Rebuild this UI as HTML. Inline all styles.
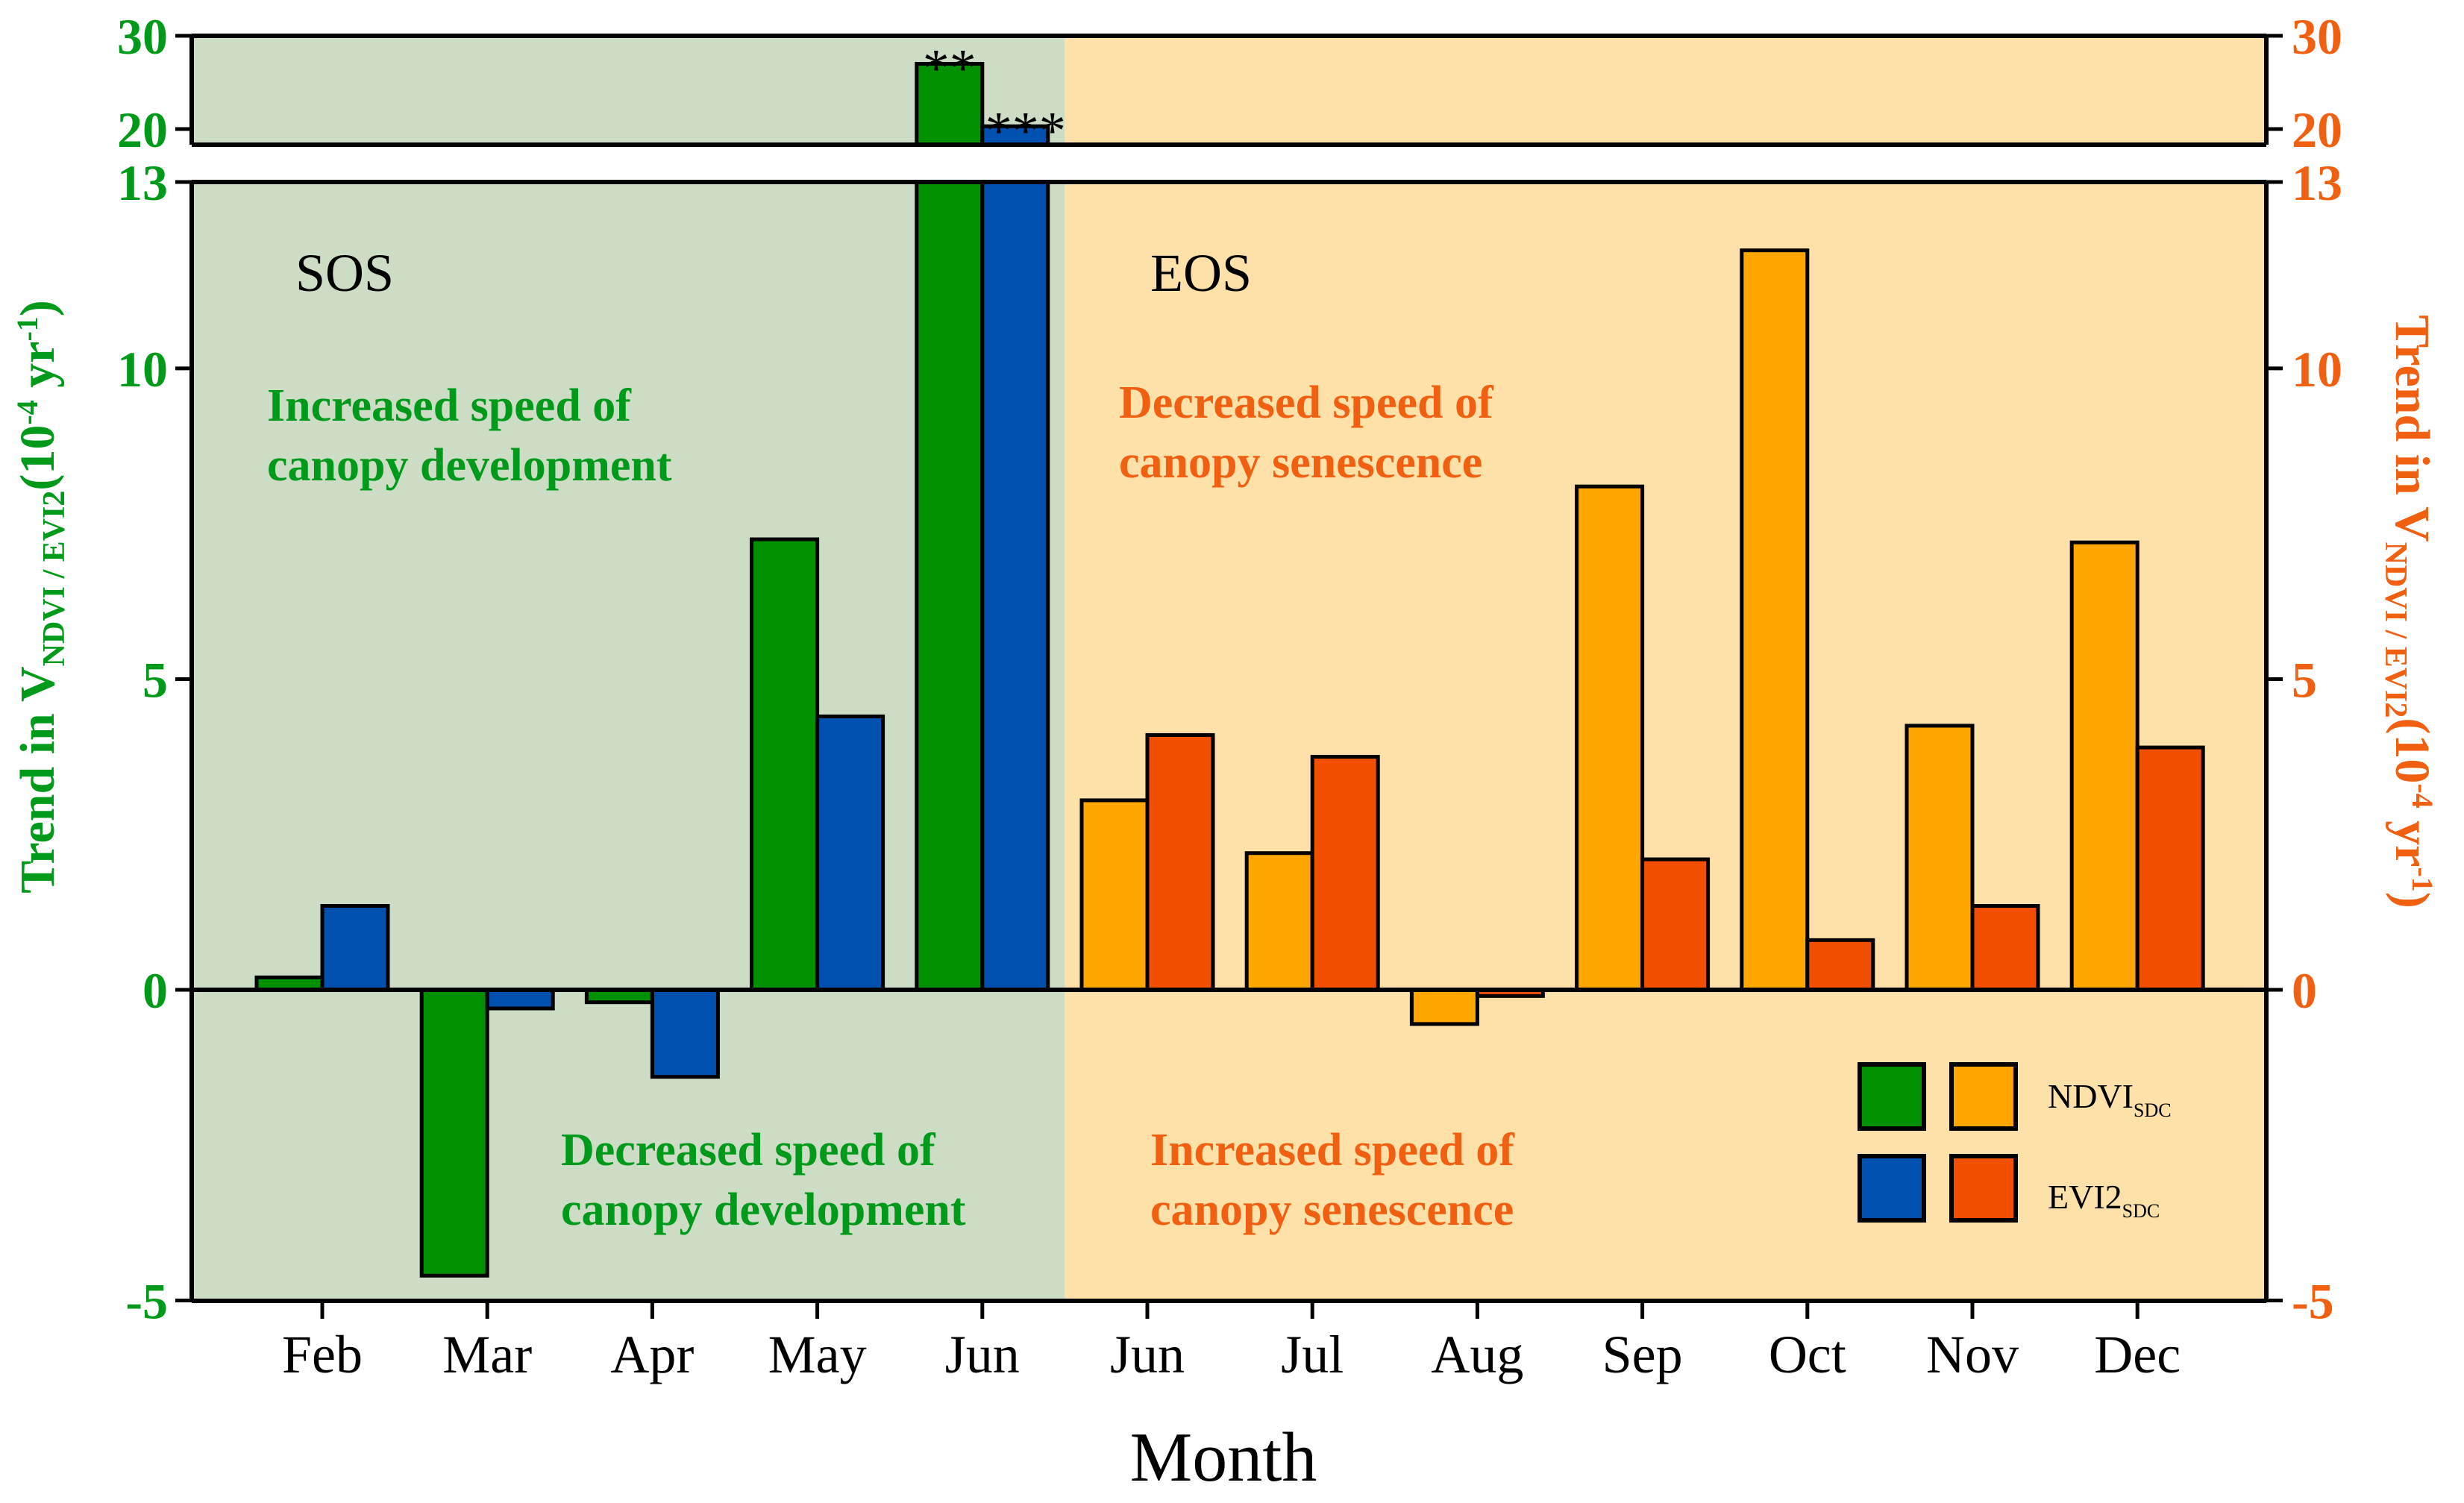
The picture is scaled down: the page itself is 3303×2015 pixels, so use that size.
<!DOCTYPE html>
<html><head><meta charset="utf-8"><style>
html,body{margin:0;padding:0;background:#fff;}
svg{display:block;font-family:"Liberation Serif",serif;}
</style></head><body>
<svg id="chart" width="3303" height="2015" viewBox="0 0 3303 2015" xmlns="http://www.w3.org/2000/svg">
<g id="bg"></g><g id="bars"></g><g id="axes"></g><g id="labels"></g>
</svg>
<script>
const months = ["Feb","Mar","Apr","May","Jun","Jun","Jul","Aug","Sep","Oct","Nov","Dec"];
const ndvi = [0.2,-4.6,-0.2,7.25,27.0,3.05,2.2,-0.55,8.1,11.9,4.25,7.2];
const evi2 = [1.35,-0.3,-1.4,4.4,20.3,4.1,3.75,-0.1,2.1,0.8,1.35,3.9];
const lowTicks = [-5,0,5,10,13];
const topTicks = [20,30];
const sosCount = 5;

const NS="http://www.w3.org/2000/svg";
const L=257,R=3038,LT=244,LB=1744,TT=48,TB=194;
function yLow(v){return 1327-(v)*((1327-LT)/13);}
function yTop(v){return 173-(v-20)*12.5;}
function xMonth(i){return 432+i*221.2;}
function mk(parent,tag,attrs,text){const e=document.createElementNS(NS,tag);for(const k in attrs)e.setAttribute(k,attrs[k]);if(text!==undefined)e.textContent=text;document.getElementById(parent).appendChild(e);return e;}
const split=(xMonth(sosCount-1)+xMonth(sosCount))/2;
let e;
e=mk('bg','rect',{x:L,y:TT,width:split-L,height:TB-TT,fill:'#cddcc4'});


e=mk('bg','rect',{x:split,y:TT,width:R-split,height:TB-TT,fill:'#fde1a9'});


e=mk('bg','rect',{x:L,y:LT,width:split-L,height:LB-LT,fill:'#cddcc4'});


e=mk('bg','rect',{x:split,y:LT,width:R-split,height:LB-LT,fill:'#fde1a9'});



const BW=88;
function bar(i,v,left,color,name){
  const x=left?xMonth(i)-BW:xMonth(i);
  if(v<=13){
    const y0=yLow(0),y1=yLow(v);
    e=mk('bars','rect',{x:x,y:Math.min(y0,y1),width:BW,height:Math.abs(y1-y0),fill:color,stroke:'#000','stroke-width':5});
    
    
  } else {
    e=mk('bars','rect',{x:x,y:LT,width:BW,height:yLow(0)-LT,fill:color,stroke:'#000','stroke-width':5});
    
    
    e=mk('bars','rect',{x:x,y:yTop(v),width:BW,height:TB-yTop(v),fill:color,stroke:'#000','stroke-width':5});
    
    
  }
}
for(let i=0;i<months.length;i++){
  const sos=i<sosCount;
  bar(i,ndvi[i],true,sos?'#009100':'#ffa600','ndvi-bar-'+i);
  bar(i,evi2[i],false,sos?'#0050b0':'#f24f00','evi2-bar-'+i);
}
e=mk('labels','text',{x:xMonth(4)-BW/2,y:yTop(ndvi[4])+30,'text-anchor':'middle','font-size':72},'**');


e=mk('labels','text',{x:xMonth(4)+BW/2+14,y:yTop(evi2[4])+30,'text-anchor':'middle','font-size':72},'***');



const lines=[[L,TT,R,TT],[L,TB,R,TB],[L,LT,R,LT],[L,LB,R,LB],[L,TT,L,TB],[R,TT,R,TB],[L,LT,L,LB],[R,LT,R,LB],[L,yLow(0),R,yLow(0)]];
lines.forEach((l,k)=>{e=mk('axes','line',{x1:l[0],y1:l[1],x2:l[2],y2:l[3],stroke:'#000','stroke-width':6});

});
lowTicks.forEach(t=>{const y=yLow(t);
 mk('axes','line',{x1:L-22,y1:y,x2:L,y2:y,stroke:'#000','stroke-width':5});
 mk('axes','line',{x1:R,y1:y,x2:R+22,y2:y,stroke:'#000','stroke-width':5});
 e=mk('labels','text',{x:L-32,y:y+24,'text-anchor':'end','font-size':68,'font-weight':'bold',fill:'#009a1a'},t);
 
 
 e=mk('labels','text',{x:R+34,y:y+24,'text-anchor':'start','font-size':68,'font-weight':'bold',fill:'#f06010'},t);
 
 
});
topTicks.forEach(t=>{const y=yTop(t);
 mk('axes','line',{x1:L-22,y1:y,x2:L,y2:y,stroke:'#000','stroke-width':5});
 mk('axes','line',{x1:R,y1:y,x2:R+22,y2:y,stroke:'#000','stroke-width':5});
 e=mk('labels','text',{x:L-32,y:y+24,'text-anchor':'end','font-size':68,'font-weight':'bold',fill:'#009a1a'},t);
 
 
 e=mk('labels','text',{x:R+34,y:y+24,'text-anchor':'start','font-size':68,'font-weight':'bold',fill:'#f06010'},t);
 
 
});
months.forEach((m,i)=>{const x=xMonth(i);
 mk('axes','line',{x1:x,y1:LB,x2:x,y2:LB+24,stroke:'#000','stroke-width':5});
 e=mk('labels','text',{x:x,y:1840,'text-anchor':'middle','font-size':72},m);
 
 
});
</script>
<svg style="position:absolute;left:0;top:0" width="3303" height="2015" xmlns="http://www.w3.org/2000/svg" font-family="Liberation Serif, serif">
<text x="1640" y="1985" text-anchor="middle" font-size="94">Month</text>
<text x="396" y="390" font-size="72">SOS</text>
<text x="1542" y="390" font-size="72">EOS</text>
<g font-weight="bold" font-size="62" fill="#009a1a">
<text x="358" y="564">Increased speed of<tspan x="358" y="644">canopy development</tspan></text>
<text x="752" y="1562">Decreased speed of<tspan x="752" y="1642">canopy development</tspan></text>
</g>
<g font-weight="bold" font-size="62" fill="#f06010">
<text x="1500" y="560">Decreased speed of<tspan x="1500" y="640">canopy senescence</tspan></text>
<text x="1542" y="1562">Increased speed of<tspan x="1542" y="1642">canopy senescence</tspan></text>
</g>
<text transform="translate(72,800) rotate(-90)" text-anchor="middle" font-size="66" font-weight="bold" fill="#009a1a">Trend in V<tspan font-size="42" dy="14">NDVI / EVI2</tspan><tspan dy="-14">(10</tspan><tspan font-size="40" dy="-22">-4</tspan><tspan dy="22"> yr</tspan><tspan font-size="40" dy="-22">-1</tspan><tspan dy="22">)</tspan></text>
<text transform="translate(3212,820) rotate(90)" text-anchor="middle" font-size="66" font-weight="bold" fill="#f06010">Trend in V<tspan font-size="42" dy="14">NDVI / EVI2</tspan><tspan dy="-14">(10</tspan><tspan font-size="40" dy="-22">-4</tspan><tspan dy="22"> yr</tspan><tspan font-size="40" dy="-22">-1</tspan><tspan dy="22">)</tspan></text>
<g stroke="#000" stroke-width="6">
<rect x="2493" y="1427" width="86" height="86" fill="#009100"/>
<rect x="2616" y="1427" width="86" height="86" fill="#ffa600"/>
<rect x="2493" y="1550" width="86" height="86" fill="#0050b0"/>
<rect x="2616" y="1550" width="86" height="86" fill="#f24f00"/>
</g>
<text x="2745" y="1485" font-size="46">NDVI<tspan font-size="26" dy="12">SDC</tspan></text>
<text x="2745" y="1620" font-size="46">EVI2<tspan font-size="26" dy="12">SDC</tspan></text>
</svg>
</body></html>
